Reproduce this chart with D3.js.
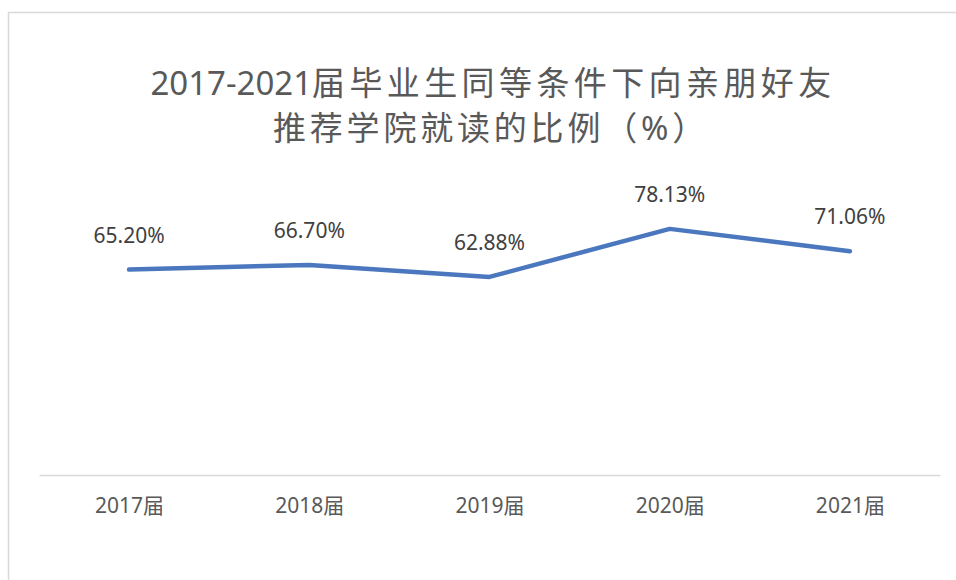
<!DOCTYPE html>
<html>
<head>
<meta charset="utf-8">
<script src="https://cdn.jsdelivr.net/npm/d3@7"></script>
<style>
  body { margin: 0; background: #fff; }
  svg { display: block; }
</style>
</head>
<body>
<div id="chart"></div>
<script>
// Dữ liệu
const categories = ["2017届", "2018届", "2019届", "2020届", "2021届"];
const values = [65.20, 66.70, 62.88, 78.13, 71.06];
const labels = ["65.20%", "66.70%", "62.88%", "78.13%", "71.06%"];
const titleLine1 = ["2017-2021", "届毕业生同等条件下向亲朋好友"];
const titleLine2 = "推荐学院就读的比例（%）";

const fullWidth = 956, fullHeight = 580;
const margin = { top: 160, right: 16, bottom: 105, left: 39 };
const width = fullWidth - margin.left - margin.right;
const height = fullHeight - margin.top - margin.bottom;

const font = "'Noto Sans', 'Noto Sans CJK SC', sans-serif";

const svg = d3.select("#chart")
    .append("svg")
    .attr("width", fullWidth)
    .attr("height", fullHeight);

// Khung viền
svg.append("rect")
    .attr("x", 8.5)
    .attr("y", 12.5)
    .attr("width", 1000)
    .attr("height", 1000)
    .attr("fill", "none")
    .attr("stroke", "#d9d9d9")
    .attr("stroke-width", 1.5);

// Tiêu đề
const title = svg.append("text")
    .attr("text-anchor", "middle")
    .style("font-family", font)
    .style("font-size", "33px")
    .style("fill", "#595959");

const t1 = title.append("tspan").attr("x", 493).attr("y", 95);
t1.append("tspan").text(titleLine1[0]);
t1.append("tspan").style("letter-spacing", "4.4px").text(titleLine1[1]);

title.append("tspan")
    .attr("x", 491)
    .attr("y", 140)
    .style("letter-spacing", "3.8px")
    .text(titleLine2);

const g = svg.append("g")
    .attr("transform", `translate(${margin.left},${margin.top})`);

const x = d3.scalePoint()
    .domain(categories)
    .range([0, width])
    .padding(0.5);

const y = d3.scaleLinear()
    .domain([0, 100])
    .range([height, 0]);

// Trục X
const xAxis = g.append("g")
    .attr("transform", `translate(0,${height})`)
    .call(d3.axisBottom(x).tickSize(0).tickPadding(23));

xAxis.select(".domain")
    .attr("stroke", "#d9d9d9")
    .attr("stroke-width", 1.5);

xAxis.selectAll("text")
    .style("font-family", font)
    .style("font-size", "21px")
    .style("fill", "#595959");

// Đường
const line = d3.line()
    .x((d, i) => x(categories[i]))
    .y(d => y(d));

g.append("path")
    .datum(values)
    .attr("fill", "none")
    .attr("stroke", "#4a77bd")
    .attr("stroke-width", 4.5)
    .attr("stroke-linejoin", "round")
    .attr("stroke-linecap", "round")
    .attr("d", line);

// Nhãn giá trị
g.selectAll(".label")
    .data(values)
    .enter()
    .append("text")
    .attr("class", "label")
    .attr("x", (d, i) => x(categories[i]))
    .attr("y", d => y(d) - 27)
    .attr("text-anchor", "middle")
    .style("font-family", font)
    .style("font-size", "21px")
    .style("fill", "#404040")
    .text((d, i) => labels[i]);
</script>
</body>
</html>
